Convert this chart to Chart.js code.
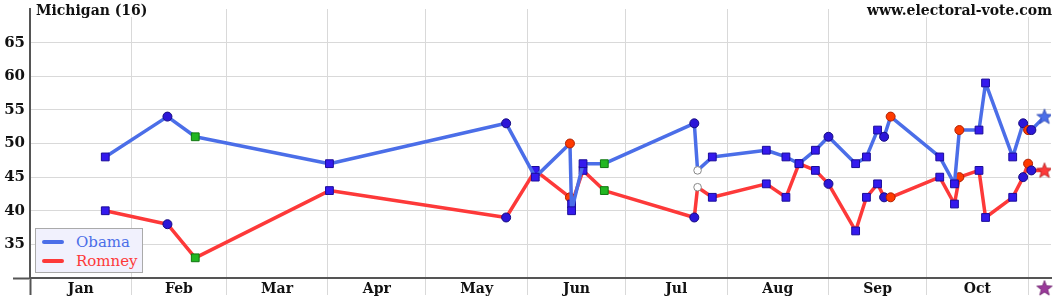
<!DOCTYPE html>
<html>
<head>
<meta charset="utf-8">
<script src="https://cdn.jsdelivr.net/npm/chart.js@4.4.0/dist/chart.umd.min.js"></script>
<style>
  body { margin: 0; background: #fff; }
  #wrap { position: relative; width: 1060px; height: 300px; font-family: 'DejaVu Serif', serif; }
  #title, #site { position: absolute; top: 0; height: 17px; line-height: 20px; background: #fff;
                  font-weight: bold; font-size: 14px; color: #111; padding: 0 2px; }
  #title { left: 34px; }
  #site { right: 6px; }
  #legend { position: absolute; left: 35px; top: 228px; width: 108px; height: 45px; background: #f1f1fd;
            border: 1px solid #aaa; box-sizing: border-box; padding-top: 3px; }
  .item { height: 19px; display: flex; align-items: center; font-size: 15px; }
  .swatch { width: 22px; height: 4px; border-radius: 2px; margin-left: 6px; margin-right: 12px; }
</style>
</head>
<body>
<div id="wrap">
  <canvas id="chart"></canvas>
  <div id="title">Michigan (16)</div>
  <div id="site">www.electoral-vote.com</div>
  <div id="legend"></div>
</div>
<script>
// Poll dates as days since Jan 1, 2012
const pollDay = [23, 42, 50.5, 91.5, 145.5, 154.4, 165, 165.5, 169, 175.5,
                 203, 204, 208.5, 225, 231, 235, 240, 244, 252.3, 255.6,
                 259, 261, 263, 278, 282.5, 284, 290, 292, 300.3, 303.5,
                 305, 306, 310];
const obama  = [48, 54, 51, 47, 53, 45, 50, 40, 47, 47,
                53, 46, 48, 49, 48, 47, 49, 51, 47, 48,
                52, 51, 54, 48, 44, 52, 52, 59, 48, 53,
                52, 52, 54];
const romney = [40, 38, 33, 43, 39, 46, 42, 41, 46, 43,
                39, 43.5, 42, 44, 42, 47, 46, 44, 37, 42,
                44, 42, 42, 45, 41, 45, 46, 39, 42, 45,
                47, 46, 46];
// marker kind of each poll
const pollKind = ['sq', 'ci', 'gs', 'sq', 'ci', 'sq', 'rc', 'sq', 'sq', 'gs',
                  'ci', 'oc', 'sq', 'sq', 'sq', 'sq', 'sq', 'ci', 'sq', 'sq',
                  'sq', 'ci', 'rc', 'sq', 'sq', 'rc', 'sq', 'sq', 'sq', 'ci',
                  'rc', 'ci', 'st'];

// election day marker under the axis
const electionDay = 310;
const electionMark = 28.5;

const monthNames = ['Jan', 'Feb', 'Mar', 'Apr', 'May', 'Jun', 'Jul', 'Aug', 'Sep', 'Oct'];
const monthStarts = [0, 31, 60, 91, 121, 152, 182, 213, 244, 274, 305];
const yTicks = [30, 35, 40, 45, 50, 55, 60, 65, 70];

const GRID = '#d9d9d9';
const AXIS = '#555';
const NONE = 'rgba(0,0,0,0)';

function makeStar(fill, stroke) {
  const c = document.createElement('canvas');
  c.width = 18; c.height = 18;
  const g = c.getContext('2d');
  g.beginPath();
  for (let i = 0; i < 10; i++) {
    const r = i % 2 === 0 ? 8 : 3.4;
    const a = -Math.PI / 2 + i * Math.PI / 5;
    g.lineTo(9 + r * Math.cos(a), 9.5 + r * Math.sin(a));
  }
  g.closePath();
  g.fillStyle = fill;
  g.fill();
  g.lineWidth = 0.8;
  g.strokeStyle = stroke;
  g.stroke();
  return c;
}

const kindStyle = {
  sq: { style: 'rect',   r: 5.5, bg: '#3419ee', bd: '#1a0c99' },
  ci: { style: 'circle', r: 4.5, bg: '#2c16d8', bd: '#160a80' },
  rc: { style: 'circle', r: 4.5, bg: '#ff3a00', bd: '#b02000' },
  gs: { style: 'rect',   r: 5.5, bg: '#22b722', bd: '#117711' },
  oc: { style: 'circle', r: 3.8, bg: '#ffffff', bd: '#888888' }
};

function series(label, values, color, dark) {
  const star = makeStar(color, dark);
  return {
    label: label,
    data: pollDay.map((d, i) => ({ x: d, y: values[i] })),
    borderColor: color,
    borderWidth: 3.5,
    borderJoinStyle: 'round',
    borderCapStyle: 'round',
    tension: 0,
    pointStyle: pollKind.map(k => k === 'st' ? star : kindStyle[k].style),
    pointRadius: pollKind.map(k => k === 'st' ? 8 : kindStyle[k].r),
    pointBackgroundColor: pollKind.map(k => k === 'st' ? color : kindStyle[k].bg),
    pointBorderColor: pollKind.map(k => k === 'st' ? dark : kindStyle[k].bd),
    pointBorderWidth: 1
  };
}

const xTickValues = [];
monthStarts.forEach((s, i) => {
  xTickValues.push(s);
  if (i < monthNames.length) xTickValues.push((s + monthStarts[i + 1]) / 2);
});
const isBoundary = v => monthStarts.includes(v);

// star below the axis on election day, placed through the chart scales
const electionStar = {
  id: 'electionStar',
  afterDatasetsDraw(chart) {
    const img = makeStar('#9a3a9a', '#6a1a6a');
    const x = chart.scales.x.getPixelForValue(electionDay);
    const y = chart.scales.y.getPixelForValue(electionMark);
    chart.ctx.drawImage(img, x - img.width / 2, y - img.height / 2);
  }
};

Chart.defaults.font.family = "'DejaVu Serif', serif";

const chart = new Chart(document.getElementById('chart'), {
  type: 'line',
  data: {
    datasets: [
      series('Obama', obama, '#4b6ee8', '#2a44b0'),
      series('Romney', romney, '#fd3939', '#b01818')
    ]
  },
  plugins: [electionStar],
  options: {
    responsive: true,
    maintainAspectRatio: false,
    animation: false,
    layout: { padding: { top: 6, right: 8, left: 0, bottom: 0 } },
    plugins: { legend: { display: false }, tooltip: { enabled: false } },
    scales: {
      x: {
        type: 'linear',
        min: 0,
        max: 312,
        afterBuildTicks: s => { s.ticks = xTickValues.map(v => ({ value: v })); },
        afterFit: s => { s.height = 22; },
        ticks: {
          autoSkip: false,
          maxRotation: 0,
          padding: -14,
          color: '#111',
          font: { size: 14, weight: 'bold' },
          callback: v => {
            const i = monthStarts.findIndex((s, k) => k < monthNames.length && v > s && v < monthStarts[k + 1]);
            return i >= 0 ? monthNames[i] : '';
          }
        },
        grid: {
          color: c => (isBoundary(c.tick.value) && c.tick.value > 0) ? GRID : NONE,
          tickLength: 17,
          tickColor: c => isBoundary(c.tick.value) ? (c.tick.value === 0 ? AXIS : GRID) : NONE,
          tickWidth: c => c.tick.value === 0 ? 2 : 1
        },
        border: { color: AXIS, width: 2 }
      },
      y: {
        min: 30,
        max: 70,
        afterBuildTicks: s => { s.ticks = yTicks.map(v => ({ value: v })); },
        afterFit: s => { s.width = 30; },
        ticks: {
          padding: -12,
          color: '#111',
          font: { size: 15, weight: 'bold' },
          callback: v => (v === 30 || v === 70) ? '' : v
        },
        grid: {
          color: c => (c.tick.value === 30 || c.tick.value === 70) ? NONE : GRID,
          tickLength: 17,
          tickColor: c => c.tick.value === 30 ? AXIS : NONE,
          tickWidth: 2
        },
        border: { color: AXIS, width: 2 }
      }
    }
  }
});

// HTML legend from the two candidate series
const legend = document.getElementById('legend');
chart.data.datasets.forEach(ds => {
  const row = document.createElement('div');
  row.className = 'item';
  row.innerHTML = `<span class="swatch" style="background:${ds.borderColor}"></span>` +
                  `<span style="color:${ds.borderColor}">${ds.label}</span>`;
  legend.appendChild(row);
});
</script>
</body>
</html>
